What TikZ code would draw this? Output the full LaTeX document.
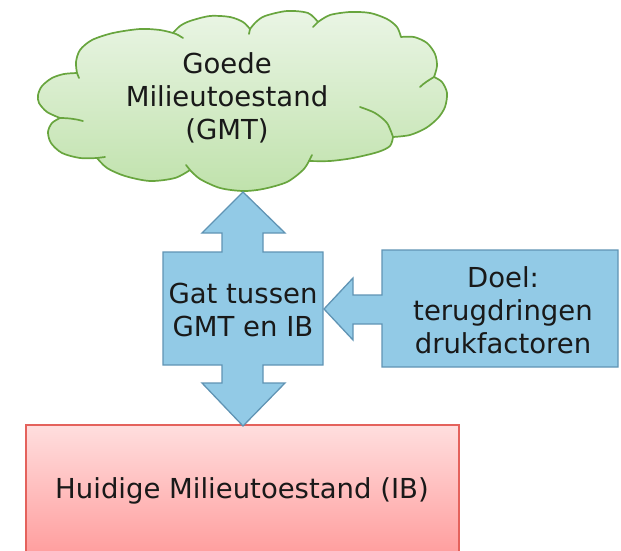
\documentclass[tikz,border=0pt]{standalone}
\usepackage{fontspec}
\setmainfont{DejaVu Sans}
\definecolor{cloudtop}{RGB}{234,245,229}
\definecolor{cloudbot}{RGB}{192,226,172}
\definecolor{cloudline}{RGB}{104,165,62}
\definecolor{bluefill}{RGB}{146,202,230}
\definecolor{blueline}{RGB}{96,148,180}
\definecolor{redtop}{RGB}{255,222,222}
\definecolor{redbot}{RGB}{255,150,150}
\definecolor{redline}{RGB}{228,98,92}
\definecolor{txtcol}{RGB}{25,25,25}
\tikzset{
  txt/.style={inner sep=0pt, align=center, text=txtcol,
    font=\fontsize{27.5}{33}\selectfont},
  cloudst/.style={draw=cloudline, line width=1.7pt, line join=round, top color=cloudtop, bottom color=cloudbot},
  puffline/.style={draw=cloudline, line width=1.7pt, line cap=round},
  bluest/.style={draw=blueline, line width=1.3pt, fill=bluefill, line join=miter},
  redst/.style={draw=redline, line width=1.3pt, top color=redtop, bottom color=redbot},
}
\begin{document}
\begin{tikzpicture}[x=1pt,y=-1pt]
\useasboundingbox (0,0) rectangle (621,551);
\clip (0,0) rectangle (621,551);
% cloud
\path[cloudst] (60,118)
  -- plot[smooth] coordinates {(60,118) (47,112) (39,103) (38,95) (42,86) (52,78) (64,74) (77,73)}
  -- plot[smooth] coordinates {(77,73) (76,62) (80,50) (92,40) (113,33) (140,29) (160,30) (173,33)}
  -- plot[smooth] coordinates {(173,33) (180,26) (190,21) (210,16) (230,17) (243,22) (250,29)}
  -- plot[smooth] coordinates {(250,29) (256,22) (265,16) (287,11) (308,13) (318,22)}
  -- plot[smooth] coordinates {(318,22) (330,15) (350,12) (370,13) (387,19) (397,27) (401,37)}
  -- plot[smooth] coordinates {(401,37) (414,37) (427,43) (435,54) (437,66) (434,77)}
  -- plot[smooth] coordinates {(434,77) (442,82) (447,93) (445,107) (438,118) (426,128) (410,135) (393,137)}
  -- plot[smooth] coordinates {(393,137) (390,146) (378,152) (353,158) (330,161) (309,161)}
  -- plot[smooth] coordinates {(309,161) (303,170) (287,182) (263,189) (243,191) (220,188) (200,179) (190,170)}
  -- plot[smooth] coordinates {(190,170) (175,178) (150,181) (125,176) (107,168) (97,158)}
  -- plot[smooth] coordinates {(97,158) (80,158) (62,153) (51,143) (48,132) (52,123) (60,118)}
  -- cycle;
% inner puff strokes
\draw[puffline] (77,73) -- (79,78);
\draw[puffline] (173,33) .. controls (177,34) and (180,36) .. (183,38);
\draw[puffline] (250,29) -- (249,34);
\draw[puffline] (318,22) -- (313,27);
\draw[puffline] (434,77) .. controls (429,80) and (424,83) .. (420,87);
\draw[puffline] plot[smooth] coordinates {(393,137) (387,123) (375,113) (360,107)};
\draw[puffline] (309,161) -- (312,155);
\draw[puffline] (190,170) -- (186,165);
\draw[puffline] (97,158) -- (105,157);
\draw[puffline] (60,118) .. controls (68,118) and (76,119) .. (83,121);
\node[txt] (gmt) at (227,98) {Goede\\Milieutoestand\\(GMT)};
% red box
\draw[redst] (26,425) rectangle (459,570);
\node[txt] (ib) at (242,491) {Huidige Milieutoestand (IB)};
% blue up-down arrow callout
\draw[bluest] (243,192) -- (285,233) -- (263,233) -- (263,252) -- (323,252) -- (323,365)
  -- (263,365) -- (263,383) -- (285,383) -- (243,426) -- (202,383) -- (222,383) -- (222,365)
  -- (163,365) -- (163,252) -- (222,252) -- (222,233) -- (202,233) -- cycle;
\node[txt] (gat) at (243,310) {Gat tussen\\GMT en IB};
% right left-arrow callout
\draw[bluest] (382,250) -- (618,250) -- (618,367) -- (382,367) -- (382,324) -- (353,324)
  -- (353,340) -- (324,309) -- (353,278) -- (353,295) -- (382,295) -- cycle;
\node[txt] (doel) at (503,310) {Doel:\\terugdringen\\drukfactoren};
\end{tikzpicture}
\end{document}
